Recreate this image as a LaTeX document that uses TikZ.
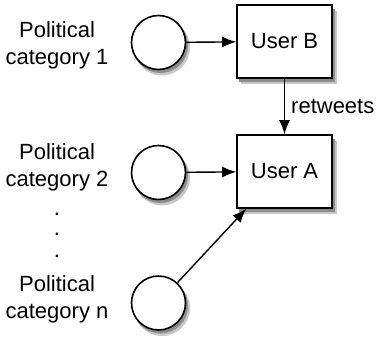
\documentclass[tikz,border=0pt]{standalone}
\usepackage{fontspec}
\setmainfont{Liberation Sans}
\usepackage{tikz}
\usetikzlibrary{arrows.meta}
\definecolor{ShadowLight}{HTML}{C8C8C8}
\definecolor{ShadowDark}{HTML}{8C8C8C}

\tikzset{
  catcircle/.style={circle,draw,line width=1.6pt,fill=white,minimum size=54pt,inner sep=0pt},
  userbox/.style={rectangle,draw,line width=1.6pt,fill=white,minimum width=95pt,minimum height=73pt},
  shadowlight/.style={fill=ShadowLight,draw=none},
  shadowdark/.style={fill=ShadowDark,draw=none},
  catlabel/.style={align=center,inner sep=0pt},
  link/.style={line width=1.4pt,-{Latex[length=14pt,width=11pt]}}
}

\begin{document}
\begin{tikzpicture}[x=1pt,y=-1pt,font=\fontsize{22}{27}\selectfont]
    \useasboundingbox (0,0) rectangle (385,340);

    % shadows
    \foreach \cy in {42.5,172.5,303} {
      \fill[shadowlight] (162,\cy+5) circle (28pt);
      \fill[shadowdark] (160.5,\cy+3) circle (27.5pt);
    }
    \foreach \by in {41.5,171.5} {
      \fill[shadowlight] (241,\by-31) rectangle (336.5,\by+42);
      \fill[shadowdark] (239,\by-33) rectangle (334.5,\by+40);
    }

    \node[userbox] (B) at (284.5,41.5) {User B};
    \node[userbox] (A) at (284.5,171.5) {User A};

    \node[catcircle] (c1) at (158.5,42.5) {};
    \node[catcircle] (c2) at (158.5,172.5) {};
    \node[catcircle] (cn) at (158.5,303) {};

    \node[catlabel] (l1) at (57,45) {Political\\category 1};
    \node[catlabel] (l2) at (57,167) {Political\\category 2};
    \node[catlabel] (ln) at (57,299) {Political\\category n};
    \foreach \y/\i in {214/1,234/2,256/3}
      \node[inner sep=0pt] (dot\i) at (57,\y) {.};

    \draw[link] (c1) -- (B);
    \draw[link] (c2) -- (A);
    \draw[link] (B) -- node[right=6pt,inner sep=0pt] (rt) {retweets} (A);
    \draw[link] (cn) -- ([xshift=10pt]A.south west);
   \end{tikzpicture}
\end{document}
